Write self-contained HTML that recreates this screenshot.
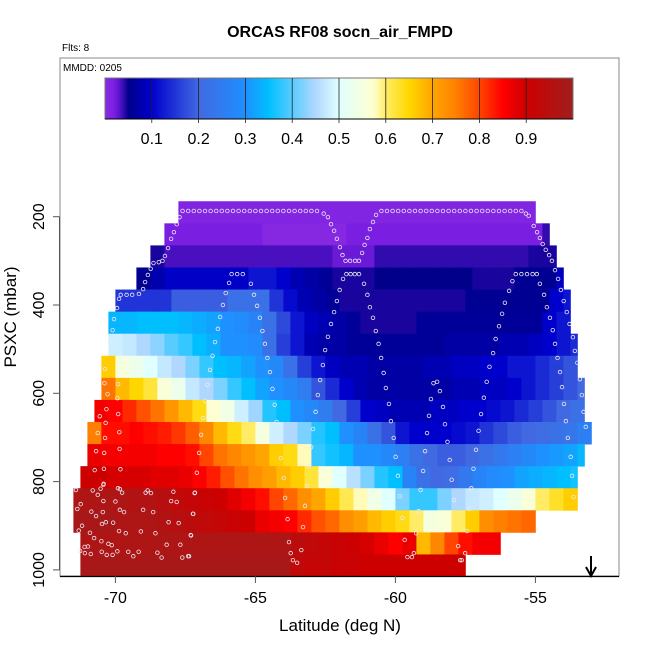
<!DOCTYPE html>
<html><head><meta charset="utf-8"><style>
html,body{margin:0;padding:0;background:#fff;}
svg{display:block;font-family:"Liberation Sans",Arial,sans-serif;}
</style></head>
<body>
<svg id="chart" width="650" height="650" viewBox="0 0 650 650" xmlns="http://www.w3.org/2000/svg">
<defs>
<clipPath id="plotclip"><rect x="60" y="58" width="559" height="518"/></clipPath>
<linearGradient id="cbgrad" x1="0" x2="1" y1="0" y2="0"></linearGradient>
</defs>
<text x="340" y="37" text-anchor="middle" font-size="16" font-weight="bold">ORCAS RF08 socn_air_FMPD</text>
<text x="62" y="51" font-size="10">Flts: 8</text>
<rect x="60" y="58" width="559" height="518" fill="none" stroke="#888" stroke-width="1"/>
<text x="63" y="71" font-size="10">MMDD: 0205</text>
<g id="heat" clip-path="url(#plotclip)"></g>
<g id="track" clip-path="url(#plotclip)"></g>
<g id="cbar"></g>
<g id="axes"></g>
<g>
<line x1="591" y1="556" x2="591" y2="575" stroke="#000" stroke-width="2"/>
<polyline points="586,567 591,576 596,567" fill="none" stroke="#000" stroke-width="2"/>
</g>
<text x="340" y="631" text-anchor="middle" font-size="17">Latitude (deg N)</text>
<text transform="translate(16,317) rotate(-90)" text-anchor="middle" font-size="17">PSXC (mbar)</text>
</svg>
<script>
// ---------- data ----------
const pressureBinTop = 165;
const pressureBinSize = 50;
const rowStart = [-67.75,-68.25,-68.75,-69.25,-70,-70.25,-70.25,-70.5,-70.5,-70.75,-71,-71,-71.25,-71.5,-71.5,-71.25,-71.25];
const rowEnd   = [-55,-54.5,-54.25,-54,-53.75,-53.75,-53.5,-53.5,-53.25,-53.25,-53,-53.25,-53.5,-53.5,-55,-56.25,-57.5];
const row0 = [0.01,0.01,0.01,0.01,0.01,0.01,0.01,0.01,0.01,0.01,0.01,0.01,0.01,0.01,0.01,0.01,0.01,0.01,0.01,0.01,0.01,0.01,0.01,0.01,0.01,0.01];
const row1 = [0.02,0.02,0.02,0.02,0.02,0.02,0.02,0.005,0.005,0.005,0.005,0.005,0.005,0.02,0.02,0.02,0.02,0.02,0.02,0.02,0.02,0.02,0.02,0.02,0.02,0.02,0.02,0.04];
const row2 = [0.045,0.035,0.035,0.035,0.035,0.035,0.035,0.035,0.035,0.035,0.035,0.035,0.035,0.025,0.025,0.025,0.04,0.04,0.04,0.04,0.04,0.04,0.04,0.04,0.04,0.04,0.04,0.045,0.045];
const row3 = [0.055,0.075,0.095,0.095,0.095,0.095,0.095,0.095,0.12,0.12,0.1,0.08,0.07,0.06,0.045,0.045,0.045,0.05,0.05,0.05,0.05,0.05,0.05,0.05,0.045,0.045,0.045,0.055,0.055,0.055,0.09];
const row4 = [0.15,0.15,0.15,0.15,0.19,0.19,0.19,0.19,0.22,0.22,0.22,0.15,0.11,0.08,0.07,0.06,0.045,0.045,0.045,0.045,0.045,0.045,0.045,0.045,0.045,0.055,0.055,0.055,0.055,0.055,0.055,0.1,0.12];
const row5 = [0.34,0.34,0.35,0.35,0.35,0.34,0.33,0.32,0.3,0.29,0.27,0.22,0.17,0.12,0.09,0.08,0.07,0.06,0.045,0.045,0.045,0.045,0.06,0.06,0.06,0.06,0.06,0.06,0.06,0.06,0.06,0.1,0.12];
const row6 = [0.48,0.47,0.45,0.43,0.4,0.38,0.35,0.33,0.3,0.3,0.29,0.22,0.16,0.12,0.08,0.07,0.07,0.06,0.06,0.06,0.06,0.06,0.06,0.06,0.07,0.07,0.07,0.07,0.08,0.08,0.09,0.1,0.12,0.14];
const row7 = [0.66,0.55,0.53,0.5,0.47,0.45,0.42,0.38,0.35,0.34,0.32,0.3,0.28,0.22,0.16,0.12,0.09,0.08,0.08,0.07,0.07,0.07,0.07,0.08,0.08,0.09,0.09,0.1,0.1,0.12,0.12,0.14,0.16,0.18];
const row8 = [0.76,0.68,0.65,0.62,0.56,0.53,0.47,0.45,0.42,0.38,0.35,0.32,0.3,0.28,0.25,0.18,0.14,0.1,0.08,0.07,0.07,0.07,0.07,0.07,0.07,0.08,0.08,0.09,0.09,0.1,0.12,0.14,0.16,0.18,0.2];
const row9 = [0.86,0.85,0.82,0.79,0.76,0.72,0.68,0.64,0.57,0.54,0.48,0.44,0.37,0.35,0.3,0.28,0.25,0.2,0.16,0.1,0.09,0.08,0.08,0.08,0.09,0.09,0.1,0.1,0.11,0.12,0.14,0.16,0.18,0.2,0.22];
const row10 = [0.75,0.84,0.84,0.85,0.84,0.83,0.81,0.78,0.74,0.68,0.64,0.6,0.55,0.48,0.45,0.42,0.37,0.35,0.3,0.27,0.22,0.18,0.12,0.1,0.1,0.1,0.11,0.12,0.15,0.17,0.19,0.2,0.21,0.22,0.23,0.26];
const row11 = [0.87,0.86,0.86,0.86,0.86,0.85,0.85,0.84,0.8,0.76,0.74,0.72,0.7,0.66,0.64,0.58,0.38,0.36,0.34,0.3,0.3,0.28,0.26,0.22,0.2,0.19,0.19,0.2,0.22,0.24,0.26,0.28,0.3,0.31,0.32,0.34];
const row12 = [0.9,0.9,0.89,0.89,0.89,0.88,0.88,0.87,0.85,0.83,0.79,0.76,0.73,0.71,0.68,0.66,0.62,0.56,0.5,0.46,0.42,0.37,0.35,0.27,0.22,0.2,0.21,0.24,0.27,0.29,0.3,0.32,0.33,0.34,0.35,0.36];
const row13 = [0.97,0.97,0.97,0.97,0.96,0.96,0.95,0.93,0.92,0.91,0.9,0.88,0.86,0.84,0.8,0.77,0.73,0.7,0.66,0.61,0.58,0.54,0.5,0.42,0.38,0.38,0.42,0.45,0.47,0.48,0.5,0.53,0.56,0.6,0.63,0.66];
const row14 = [0.98,0.98,0.98,0.97,0.97,0.97,0.96,0.95,0.94,0.93,0.92,0.91,0.9,0.87,0.86,0.85,0.82,0.79,0.77,0.73,0.71,0.68,0.66,0.64,0.6,0.55,0.56,0.6,0.66,0.73,0.75,0.76,0.77];
const row15 = [0.97,0.97,0.97,0.97,0.97,0.97,0.97,0.97,0.97,0.97,0.97,0.97,0.97,0.97,0.97,0.94,0.93,0.92,0.91,0.9,0.89,0.87,0.85,0.87,0.68,0.74,0.8,0.84,0.86,0.86];
const row16 = [0.98,0.98,0.98,0.98,0.98,0.98,0.98,0.98,0.98,0.98,0.98,0.98,0.98,0.98,0.98,0.93,0.92,0.92,0.91,0.91,0.9,0.9,0.9,0.9,0.9,0.9,0.9,0.9];
const rowValues = [row0,row1,row2,row3,row4,row5,row6,row7,row8,row9,row10,row11,row12,row13,row14,row15,row16];
const cellWidthDeg = 0.5;

const trackLat = [-70.39,-70.37,-70.19,-70.10,-70.05,-69.94,-69.87,-69.81,-69.6,-69.4,-69.16,-69.01,-68.94,-68.84,-68.74,-68.64,-68.45,-68.32,-68.23,-68.12,-68.01,-67.91,-67.81,-67.71,
-67.6,-67.4,-67.2,-67.0,-66.8,-66.6,-66.4,-66.2,-66.0,-65.8,-65.6,-65.4,-65.2,-65.0,-64.8,-64.6,-64.4,-64.2,-64.0,-63.8,-63.6,-63.4,-63.2,-63.0,-62.8,
-62.56,-62.41,-62.30,-62.19,-62.09,-61.98,-61.89,-61.78,-61.62,-61.44,-61.30,-61.19,-61.10,-61.0,-60.91,-60.80,-60.69,
-60.5,-60.3,-60.1,-59.9,-59.7,-59.5,-59.3,-59.1,-58.9,-58.7,-58.5,-58.3,-58.1,-57.9,-57.7,-57.5,-57.3,-57.1,-56.9,-56.7,-56.5,-56.3,-56.1,-55.9,-55.7,-55.5,
-55.34,-55.24,-55.06,-54.94,-54.84,-54.74,-54.63,-54.51,-54.41,-54.30,-54.19,-54.09,-53.99,-53.88,-53.78,-53.66,-53.59,-53.50,-53.41,-53.34,-53.28,-53.20,
-54.84,-54.69,-54.59,-54.48,-54.38,-54.30,-54.21,-54.12,-54.05,-53.98,-53.91,-53.84,-53.74,-53.69,-53.64,
-55.7,-55.5,-55.3,-55.1,-54.95,
-55.82,-55.94,-56.09,-56.19,-56.30,-56.42,-56.51,-56.64,-56.74,-56.84,-56.94,-57.03,-57.12,-57.21,-57.29,-57.37,-57.44,-57.51,-57.63,
-61.75,-61.6,-61.45,-61.3,
-61.87,-61.99,-62.09,-62.19,-62.30,-62.41,-62.51,-62.59,-62.69,-62.77,-62.85,-62.94,-63.01,-63.09,-63.16,-63.23,-63.30,-63.36,-63.51,-63.66,
-61.12,-61.0,-60.91,-60.80,-60.70,-60.60,-60.51,-60.42,-60.34,-60.23,-60.16,-60.06,-59.99,-59.91,-59.84,-59.75,-59.67,-59.57,-59.41,-59.34,-59.26,
-65.85,-65.65,-65.45,
-65.94,-66.06,-66.16,-66.26,-66.34,-66.44,-66.53,-66.62,-66.71,-66.80,-66.87,-66.94,-67.01,-67.09,-67.17,-67.23,-67.31,-67.37,
-65.16,-65.05,-64.94,-64.84,-64.75,-64.66,-64.57,-64.48,-64.39,-64.31,-64.24,-64.16,-64.09,-63.99,-63.94,-63.85,-63.80,-63.74,
-58.64,-58.73,-58.80,-58.87,-58.94,-59.01,-59.10,-59.17,-58.51,-58.41,-58.30,-58.23,-58.14,-58.06,-57.99,-57.91,-57.76,-57.69,
-69.90,-69.93,-69.90,-69.86,-69.85,-69.82,
-70.28,-70.32,-70.56,-70.35,-70.63,-70.37,-70.69,-70.40,-70.74,-70.41,-70.42,
-71.41,-70.81,-70.53,-70.43,-70.63,-70.43,-70.0,-71.24,-71.36,-70.86,-70.69,-70.45,-69.84,-69.91,-69.76,-69.84,-69.69,-70.08,-70.34,-70.48,-71.19,-71.31,-70.91,-70.76,-70.50,-70.25,-70.13,-71.10,-70.98,-71.26,-71.09,-70.88,-70.49,-70.31,-70.10,-69.93,-69.54,-69.36,-69.17,-69.87,-69.63,-69.09,-68.57,-68.17,-67.68,-68.50,-68.35,-67.61,-67.40,-69.01,-68.65,-68.10,-67.74,-68.01,-67.81,-67.22,-67.30,-68.92,-68.85,-68.73,-67.93,-67.16];
const trackP = [577,545,484,457,432,407,386,377,377,377,375,364,348,332,318,305,303,300,289,271,250,235,217,201,
187,187,187,187,187,187,187,187,187,187,187,187,187,187,187,187,187,187,187,187,187,187,187,187,187,
193,201,217,232,250,269,287,300,300,300,300,282,264,248,228,212,196,
187,187,187,187,187,187,187,187,187,187,187,187,187,187,187,187,187,187,187,187,187,187,187,187,187,187,
193,198,221,235,248,262,275,287,300,321,341,366,391,416,443,473,504,531,568,604,642,676,
352,377,405,429,457,488,520,552,586,624,663,701,744,787,835,
330,330,330,330,330,
346,368,395,420,448,477,509,540,574,610,647,685,728,771,815,862,912,962,978,
330,330,330,330,
341,366,391,416,443,472,502,536,570,604,642,681,722,765,810,855,903,955,984,978,
352,377,405,429,459,488,520,554,588,624,663,701,744,787,833,882,932,971,971,962,917,
330,330,330,
350,373,400,427,454,484,515,547,581,617,656,694,735,780,826,873,921,969,
352,377,402,429,459,488,520,552,590,626,665,706,747,792,837,885,937,962,
577,613,651,690,731,776,819,867,574,595,631,670,710,751,796,842,946,978,
579,611,647,688,726,772,
602,636,652,667,690,701,731,735,774,771,805,
819,820,816,807,830,844,845,851,862,868,878,869,817,815,825,864,869,893,892,896,900,911,916,928,935,941,944,948,947,957,962,964,959,966,966,958,959,969,959,912,917,913,917,943,943,961,972,972,969,864,869,892,894,844,846,873,922,825,820,826,823,825];

const xTicks = [-70,-65,-60,-55];
const yTicks = [200,400,600,800,1000];
const cbTicks = [0.1,0.2,0.3,0.4,0.5,0.6,0.7,0.8,0.9];

// colour scale stops (value, rgb)
const cmapV = [0,0.02,0.035,0.05,0.1,0.2,0.3,0.35,0.45,0.5,0.575,0.6,0.65,0.7,0.75,0.8,0.85,0.9,1.0];
const cmapC = [[138,43,226],[122,30,226],[74,16,192],[0,0,139],[0,0,205],[65,105,225],[30,144,255],[0,191,255],[176,216,255],[224,255,255],[255,255,208],[255,236,100],[255,215,0],[255,165,0],[255,128,0],[255,69,0],[255,0,0],[205,0,0],[160,30,30]];

// ---------- scales ----------
function xScale(lat){ return 115.4 + (lat + 70) * 28; }
function yScale(p){ return 216.7 + (p - 200) * 0.4415; }
function cbScale(v){ return 105 + v * 468; }
function color(v){
  if (v <= cmapV[0]) return 'rgb('+cmapC[0].join(',')+')';
  for (let i=1;i<cmapV.length;i++){
    if (v <= cmapV[i]){
      const t=(v-cmapV[i-1])/(cmapV[i]-cmapV[i-1]);
      const a=cmapC[i-1], b=cmapC[i];
      return 'rgb('+[0,1,2].map(j=>Math.round(a[j]+(b[j]-a[j])*t)).join(',')+')';
    }
  }
  return 'rgb('+cmapC[cmapC.length-1].join(',')+')';
}
const NS='http://www.w3.org/2000/svg';
function mk(tag, attrs, parent){
  const e=document.createElementNS(NS,tag);
  for (const k in attrs) e.setAttribute(k, attrs[k]);
  parent.appendChild(e); return e;
}

// ---------- heatmap ----------
const heat=document.getElementById('heat');
rowValues.forEach((vals, i) => {
  const pTop = pressureBinTop + i*pressureBinSize;
  const y0 = yScale(pTop), y1 = yScale(pTop + pressureBinSize);
  vals.forEach((v, k) => {
    const a = rowStart[i] + k*cellWidthDeg;
    const b = Math.min(a + cellWidthDeg, rowEnd[i]);
    const x0 = xScale(a), x1 = xScale(b);
    const r = mk('rect', {x:x0, y:y0, width:(x1-x0)+0.4, height:(y1-y0)+0.4, fill:color(v)}, heat);
    
    
  });
});

// ---------- flight track ----------
const track=document.getElementById('track');
trackLat.forEach((lat, i) => {
  const c = mk('circle', {cx:xScale(lat), cy:yScale(trackP[i]), r:1.8, fill:'none', stroke:'#eee8f4', 'stroke-width':0.8}, track);
  
  
});

// ---------- colorbar ----------
const grad=document.getElementById('cbgrad');
for (let i=0;i<=100;i++){
  mk('stop', {offset:(i)+'%', 'stop-color':color(i/100)}, grad);
}
const cbar=document.getElementById('cbar');
const cbRect = mk('rect', {x:cbScale(0), y:78, width:cbScale(1)-cbScale(0), height:41, fill:'url(#cbgrad)', stroke:'#777', 'stroke-width':1}, cbar);


mk('line', {x1:cbScale(0), x2:cbScale(1), y1:119, y2:119, stroke:'#000', 'stroke-width':1}, cbar);
cbTicks.forEach(t => {
  const x=cbScale(t);
  const l = mk('line', {x1:x, x2:x, y1:78, y2:123, stroke:'#222', 'stroke-width':0.8}, cbar);
  
  
  const tx = mk('text', {x:x, y:144, 'text-anchor':'middle', 'font-size':16}, cbar);
  tx.textContent = t.toFixed(1);
  
  
});

// ---------- axes ----------
const axes=document.getElementById('axes');
mk('line', {x1:60, x2:619, y1:576.5, y2:576.5, stroke:'#000', 'stroke-width':1.2}, axes);
mk('line', {x1:59.5, x2:59.5, y1:yScale(200), y2:yScale(1000), stroke:'#555', 'stroke-width':1}, axes);
xTicks.forEach(t => {
  const x=xScale(t);
  mk('line', {x1:x, x2:x, y1:576, y2:583, stroke:'#555', 'stroke-width':1}, axes);
  const tx = mk('text', {x:x, y:603, 'text-anchor':'middle', 'font-size':16}, axes);
  tx.textContent = String(t);
  
  
});
yTicks.forEach(t => {
  const y=yScale(t);
  mk('line', {x1:53, x2:59.5, y1:y, y2:y, stroke:'#555', 'stroke-width':1}, axes);
  const tx = mk('text', {transform:'translate(44,'+y+') rotate(-90)', 'text-anchor':'middle', 'font-size':16}, axes);
  tx.textContent = String(t);
  
  
});
</script>
</body></html>
